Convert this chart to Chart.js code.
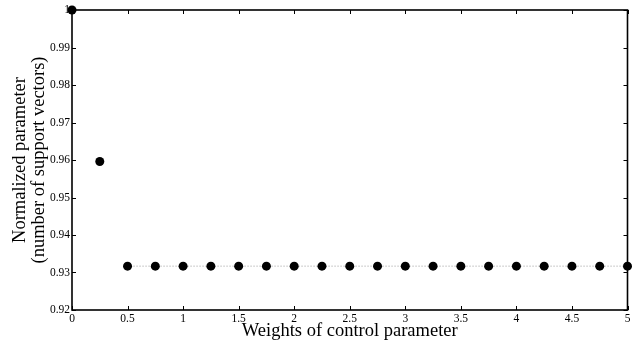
<!DOCTYPE html>
<html>
<head>
<meta charset="utf-8">
<script src="https://cdn.jsdelivr.net/npm/chart.js@4.4.0/dist/chart.umd.min.js"></script>
<style>
  html, body { margin: 0; padding: 0; background: #fff; }
  #wrap { width: 632px; height: 348px; }
</style>
</head>
<body>
<div id="wrap"><canvas id="chart"></canvas></div>
<script>
// weights of control parameter and normalized number of support vectors
const weights = [0, 0.25, 0.5, 0.75, 1, 1.25, 1.5, 1.75, 2, 2.25, 2.5, 2.75, 3, 3.25, 3.5, 3.75, 4, 4.25, 4.5, 4.75, 5];
const normalized = [1, 0.9596, 0.9317, 0.9317, 0.9317, 0.9317, 0.9317, 0.9317, 0.9317, 0.9317, 0.9317,
  0.9317, 0.9317, 0.9317, 0.9317, 0.9317, 0.9317, 0.9317, 0.9317, 0.9317, 0.9317];
const xTicks = [0, 0.5, 1, 1.5, 2, 2.5, 3, 3.5, 4, 4.5, 5];
const yTicks = [0.92, 0.93, 0.94, 0.95, 0.96, 0.97, 0.98, 0.99, 1];

// only the flat part is joined by the dotted line
const firstJoined = 2;
const loosePoints = weights.slice(0, firstJoined).map((x, i) => ({ x: x, y: normalized[i] }));
const joinedPoints = weights.slice(firstJoined).map((x, i) => ({ x: x, y: normalized[i + firstJoined] }));

// frame with inward ticks on all four sides
const framePlugin = {
  id: 'frame',
  afterDatasetsDraw(chart) {
    const ctx = chart.ctx;
    const a = chart.chartArea;
    const xs = chart.scales.x, ys = chart.scales.y;
    const len = 4;
    ctx.save();
    ctx.strokeStyle = '#000';
    ctx.lineWidth = 1;
    ctx.beginPath();
    xTicks.forEach(v => {
      const px = Math.round(xs.getPixelForValue(v)) + 0.5;
      ctx.moveTo(px, a.bottom); ctx.lineTo(px, a.bottom - len);
      ctx.moveTo(px, a.top); ctx.lineTo(px, a.top + len);
    });
    yTicks.forEach(v => {
      const py = Math.round(ys.getPixelForValue(v)) + 0.5;
      ctx.moveTo(a.left, py); ctx.lineTo(a.left + len, py);
      ctx.moveTo(a.right, py); ctx.lineTo(a.right - len, py);
    });
    ctx.stroke();
    ctx.lineWidth = 1.6;
    ctx.strokeRect(a.left, a.top, a.right - a.left, a.bottom - a.top);
    ctx.restore();
  }
};

const font = { family: '"Liberation Serif", "Times New Roman", serif' };

new Chart(document.getElementById('chart'), {
  type: 'scatter',
  data: {
    datasets: [
      {
        data: loosePoints,
        showLine: false,
        pointRadius: 4.5,
        pointBackgroundColor: '#000',
        pointBorderColor: '#000',
        pointBorderWidth: 0
      },
      {
        data: joinedPoints,
        showLine: true,
        borderColor: '#999',
        borderWidth: 1,
        borderDash: [1, 2],
        pointRadius: 4.5,
        pointBackgroundColor: '#000',
        pointBorderColor: '#000',
        pointBorderWidth: 0
      }
    ]
  },
  options: {
    responsive: true,
    maintainAspectRatio: false,
    animation: false,
    clip: false,
    layout: { padding: { top: 10, right: 2, left: 0, bottom: 0 } },
    plugins: {
      legend: { display: false },
      tooltip: { enabled: false }
    },
    scales: {
      x: {
        type: 'linear',
        min: 0,
        max: 5,
        afterBuildTicks: s => { s.ticks = xTicks.map(v => ({ value: v })); },
        afterFit: s => { s.height = 38; s.paddingLeft = 0; s.paddingRight = 0; },
        grid: { display: false, drawTicks: false },
        border: { display: false },
        ticks: {
          padding: 2,
          maxRotation: 0,
          color: '#000',
          font: Object.assign({ size: 11.5 }, font),
          callback: v => String(v)
        },
        title: {
          display: true,
          text: 'Weights of control parameter',
          color: '#000',
          padding: { top: 0, bottom: 6 },
          font: Object.assign({ size: 18.5 }, font)
        }
      },
      y: {
        type: 'linear',
        min: 0.92,
        max: 1,
        afterBuildTicks: s => { s.ticks = yTicks.map(v => ({ value: v })); },
        afterFit: s => { s.width = 72; },
        grid: { display: false, drawTicks: false },
        border: { display: false },
        ticks: {
          padding: 2,
          color: '#000',
          font: Object.assign({ size: 11.5 }, font),
          callback: v => String(parseFloat(v.toFixed(2)))
        },
        title: {
          display: true,
          text: ['Normalized parameter', '(number of support vectors)'],
          color: '#000',
          padding: { top: 11, bottom: 0 },
          font: Object.assign({ size: 18.5, lineHeight: 1.0 }, font)
        }
      }
    }
  },
  plugins: [framePlugin]
});
</script>
</body>
</html>
